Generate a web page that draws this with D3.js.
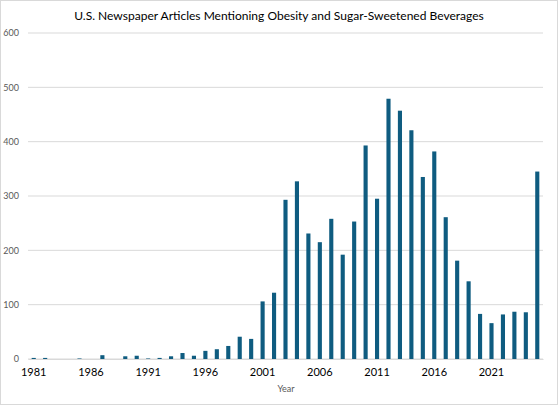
<!DOCTYPE html>
<html><head><meta charset="utf-8">
<script src="https://cdn.jsdelivr.net/npm/d3@7"></script>
<style>html,body{margin:0;padding:0;background:#fff;}svg{display:block;}</style>
</head><body>
<svg id="chart" width="558" height="405"></svg>
<script>
const title = "U.S. Newspaper Articles Mentioning Obesity and Sugar-Sweetened Beverages";
const xAxisTitle = "Year";
const years = d3.range(1981, 2026);
const articles = [2,2,0,0,1,0,7,0,5,6,1,2,5,11,6,15,18,24,41,37,
  106,122,293,327,231,215,258,192,253,393,295,479,457,421,335,382,261,181,143,83,
  66,82,87,86,345];
const yTicks = [0,100,200,300,400,500,600];
const xTickLabels = [1981,1986,1991,1996,2001,2006,2011,2016,2021];

const svg = d3.select("#chart");
const W = 558, H = 405;
const m = {left: 28, right: 15, top: 33, bottom: 46};
const font = "Lato, 'Open Sans', sans-serif";

svg.append("rect").attr("x",0.5).attr("y",0.5).attr("width",W-1).attr("height",H-1)
  .attr("fill","#fff").attr("stroke","#d9d9d9");

const x = d3.scaleBand().domain(years).range([m.left, W - m.right]).paddingInner(0.64).paddingOuter(0.32);
const y = d3.scaleLinear().domain([0, 600]).range([H - m.bottom, m.top]);

// gridlines
svg.append("g").selectAll("line").data(yTicks).join("line")
  .attr("x1", m.left).attr("x2", W - m.right)
  .attr("y1", d => y(d)).attr("y2", d => y(d))
  .attr("stroke", "#d9d9d9").attr("stroke-width", 1);

// y tick labels
const yAxis = d3.axisLeft(y).tickValues(yTicks).tickSize(0).tickPadding(0);
const gy = svg.append("g").attr("transform", `translate(${19},0)`).call(yAxis);
gy.select(".domain").remove();
gy.selectAll("text").attr("font-family", font).attr("font-size", 9).attr("fill", "#595959");

// bars
svg.append("g").selectAll("rect").data(years).join("rect")
  .attr("x", (d) => x(d)).attr("width", x.bandwidth())
  .attr("y", (d,i) => y(articles[i])).attr("height", (d,i) => y(0) - y(articles[i]))
  .attr("fill", "#0f5c80");

// x axis
const xAxis = d3.axisBottom(x).tickValues(xTickLabels).tickSize(0).tickPadding(9);
const gx = svg.append("g").attr("transform", `translate(0,${y(0)})`).call(xAxis);
gx.select(".domain").attr("stroke", "#d9d9d9");
gx.selectAll("text").attr("font-family", font).attr("font-size", 11).attr("fill", "#000");

// axis title
svg.append("text").attr("x", 286).attr("y", 392).attr("text-anchor", "middle")
  .attr("font-family", font).attr("font-size", 9).attr("fill", "#595959").text(xAxisTitle);

// title
const t = svg.append("text").attr("x", 279).attr("y", 19.5).attr("text-anchor", "middle")
  .attr("font-family", font).attr("font-size", 13).attr("fill", "#000").text(title);
const len = t.node().getComputedTextLength();
t.attr("font-size", 13 * 410 / len);
</script>
</body></html>
